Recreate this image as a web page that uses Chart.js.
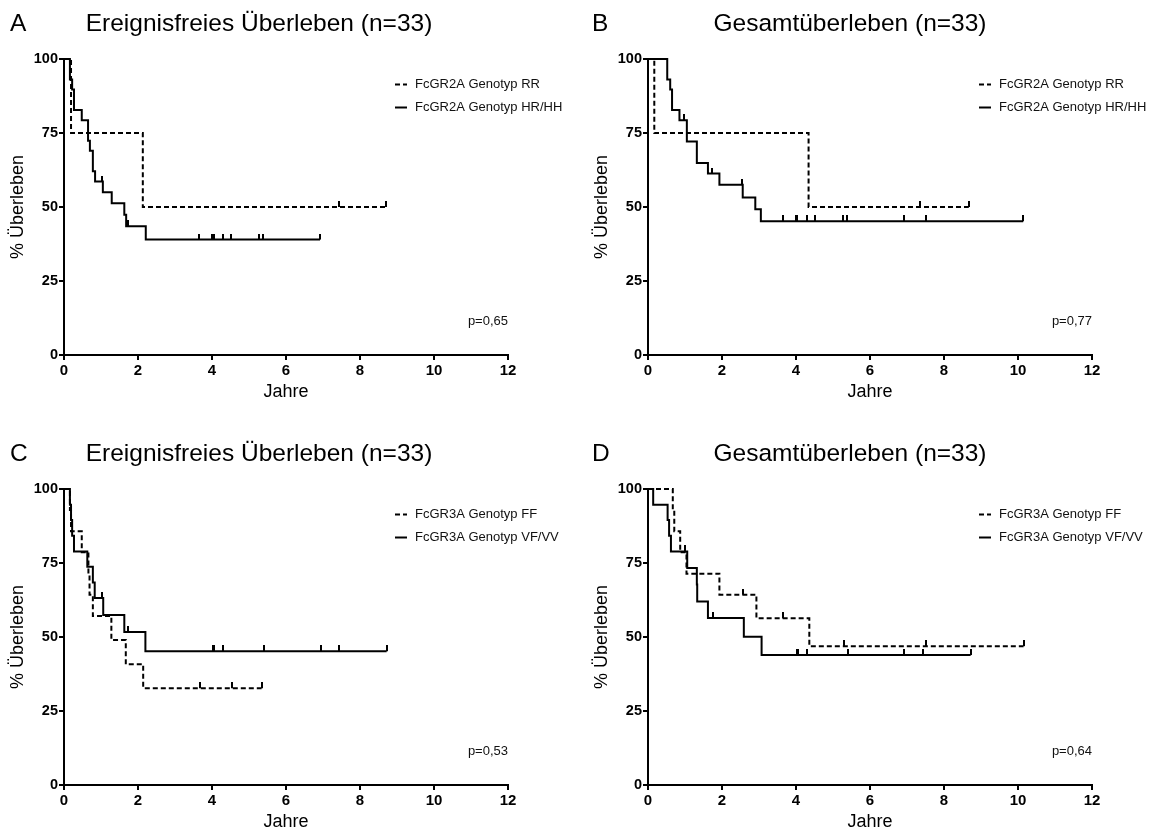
<!DOCTYPE html>
<html><head><meta charset="utf-8">
<script src="https://cdn.jsdelivr.net/npm/chart.js@4.4.1/dist/chart.umd.min.js"></script>
<style>
html,body{margin:0;padding:0;background:#fff;overflow:hidden}
#wrap{position:relative;width:1157px;height:834px;overflow:hidden;background:#fff}
canvas{position:absolute}
.lt,.tt{position:absolute;font-family:'Liberation Sans',Arial,sans-serif;font-size:24.5px;line-height:25px;color:#000;white-space:nowrap}
.tt{width:420px;text-align:center}
</style></head>
<body><div id="wrap">
<canvas id="cA" width="584" height="430" style="left:0;top:0"></canvas>
<canvas id="cB" width="573" height="430" style="left:584px;top:0"></canvas>
<canvas id="cC" width="584" height="430" style="left:0;top:430px"></canvas>
<canvas id="cD" width="573" height="430" style="left:584px;top:430px"></canvas>
<div class="lt" style="left:10px;top:10px">A</div>
<div class="tt" style="left:49px;top:10px">Ereignisfreies Überleben (n=33)</div>
<div class="lt" style="left:592px;top:10px">B</div>
<div class="tt" style="left:640px;top:10px">Gesamtüberleben (n=33)</div>
<div class="lt" style="left:10px;top:440px">C</div>
<div class="tt" style="left:49px;top:440px">Ereignisfreies Überleben (n=33)</div>
<div class="lt" style="left:592px;top:440px">D</div>
<div class="tt" style="left:640px;top:440px">Gesamtüberleben (n=33)</div>
</div>
<script>
// ---- Data (years, % survival) ----
const xTicks = [0, 2, 4, 6, 8, 10, 12];
const yTicks = [0, 25, 50, 75, 100];

// A: Ereignisfreies Überleben, FcGR2A
const A_RR_t = [0, 0.19, 2.13, 8.70];
const A_RR_s = [100, 75, 50, 50];
const A_RR_c = [7.42, 8.70];
const A_HR_t = [0, 0.16, 0.22, 0.27, 0.48, 0.65, 0.70, 0.78, 0.84, 1.05, 1.29, 1.63, 1.68, 2.21, 6.92];
const A_HR_s = [100, 93.1, 89.7, 82.8, 79.3, 72.4, 69.0, 62.1, 58.6, 55.0, 51.3, 47.4, 43.5, 39.0, 39.0];
const A_HR_c = [1.02, 1.74, 3.66, 4.01, 4.05, 4.29, 4.51, 5.28, 5.39, 6.92];

// B: Gesamtüberleben, FcGR2A
const B_RR_t = [0, 0.17, 4.34, 8.67];
const B_RR_s = [100, 75, 50, 50];
const B_RR_c = [7.36, 8.67];
const B_HR_t = [0, 0.52, 0.60, 0.65, 0.85, 1.05, 1.32, 1.62, 1.93, 2.56, 2.90, 3.05, 10.14];
const B_HR_s = [100, 93.1, 89.7, 82.8, 79.3, 72.1, 64.9, 61.3, 57.5, 53.2, 49.2, 45.2, 45.2];
const B_HR_c = [0.98, 1.72, 2.54, 3.65, 4.00, 4.04, 4.29, 4.51, 5.28, 5.37, 6.91, 7.50, 10.14];

// C: Ereignisfreies Überleben, FcGR3A
const C_FF_t = [0, 0.16, 0.19, 0.48, 0.66, 0.69, 0.78, 1.28, 1.67, 2.14, 5.34];
const C_FF_s = [100, 92.9, 85.7, 78.6, 71.4, 64.3, 57.1, 49.0, 40.8, 32.7, 32.7];
const C_FF_c = [3.67, 4.54, 5.34];
const C_VF_t = [0, 0.16, 0.19, 0.22, 0.27, 0.63, 0.78, 0.83, 1.06, 1.63, 2.20, 8.72];
const C_VF_s = [100, 94.7, 89.5, 84.2, 78.9, 73.7, 68.4, 63.2, 57.4, 51.7, 45.2, 45.2];
const C_VF_c = [1.02, 1.74, 4.02, 4.05, 4.29, 5.41, 6.94, 7.43, 8.72];

// D: Gesamtüberleben, FcGR3A
const D_FF_t = [0, 0.67, 0.71, 0.87, 1.04, 1.93, 2.93, 4.36, 10.15];
const D_FF_s = [100, 92.9, 85.7, 78.6, 71.4, 64.3, 56.3, 46.9, 46.9];
const D_FF_c = [2.57, 3.66, 5.31, 7.52, 10.15];
const D_VF_t = [0, 0.14, 0.53, 0.57, 0.62, 1.06, 1.32, 1.33, 1.62, 2.59, 3.07, 8.72];
const D_VF_s = [100, 94.7, 89.5, 84.2, 78.9, 73.3, 67.7, 62.0, 56.4, 50.1, 43.9, 43.9];
const D_VF_c = [1.00, 1.76, 4.02, 4.06, 4.29, 5.40, 6.93, 7.43, 8.72];

const labels2A = ['FcGR2A Genotyp RR', 'FcGR2A Genotyp HR/HH'];
const labels3A = ['FcGR3A Genotyp FF', 'FcGR3A Genotyp VF/VV'];
const pValues = ['p=0,65', 'p=0,77', 'p=0,53', 'p=0,64'];

// ---- Rendering ----
Chart.defaults.font.family = "'Liberation Sans', Arial, sans-serif";
Chart.defaults.color = '#000';

const tickImg = document.createElement('canvas');
tickImg.width = 2; tickImg.height = 12;
(function(){ const c = tickImg.getContext('2d'); c.fillStyle = '#000'; c.fillRect(0, 0, 2, 6); })();

function survAt(t, s, x) {
  let v = s[0];
  for (let i = 0; i < t.length; i++) { if (t[i] <= x) v = s[i]; }
  return v;
}

const kmAnnotations = {
  id: 'kmAnnotations',
  afterDatasetsDraw(chart, args, opts) {
    const ctx = chart.ctx;
    ctx.save();
    ctx.font = opts.font;
    ctx.fillStyle = '#111';
    ctx.textBaseline = 'middle';
    const mains = chart.data.datasets.filter(d => d.kmMain);
    mains.forEach((ds, i) => {
      const y = opts.legendY + i * opts.rowGap;
      ctx.beginPath();
      ctx.setLineDash(ds.borderDash || []);
      ctx.lineWidth = ds.borderWidth;
      ctx.strokeStyle = ds.borderColor;
      ctx.moveTo(opts.legendX, y);
      ctx.lineTo(opts.legendX + opts.sampleLen, y);
      ctx.stroke();
      ctx.setLineDash([]);
      ctx.textAlign = 'left';
      ctx.fillText(ds.label, opts.legendX + opts.sampleLen + opts.textGap, y);
    });
    ctx.textAlign = 'right';
    ctx.fillText(opts.pText, chart.chartArea.right, chart.chartArea.top + opts.pOffset);
    ctx.restore();
  }
};

function makeChart(id, series, pText, padRight) {
  const datasets = [];
  series.forEach(s => {
    datasets.push({
      label: s.label, kmMain: true,
      data: s.t.map((x, i) => ({ x: x, y: s.s[i] })),
      stepped: 'before', borderColor: '#000', borderWidth: 2,
      borderDash: s.dash ? [5, 3] : [], borderCapStyle: 'butt', borderJoinStyle: 'miter',
      pointRadius: 0, fill: false, clip: false, tension: 0
    });
  });
  series.forEach(s => {
    datasets.push({
      label: s.label + ' (zensiert)',
      data: s.c.map(x => ({ x: x, y: survAt(s.t, s.s, x) })),
      showLine: false, pointStyle: tickImg, pointRadius: 3,
      borderColor: '#000', backgroundColor: '#000', clip: false
    });
  });
  const gridOpt = { display: true, drawOnChartArea: false, drawTicks: true, tickLength: 5, color: '#000', lineWidth: 2 };
  const borderOpt = { display: true, color: '#000', width: 2 };
  new Chart(document.getElementById(id), {
    type: 'line',
    data: { datasets: datasets },
    options: {
      responsive: false, animation: false, events: [], devicePixelRatio: 1,
      layout: { padding: { top: 59, right: padRight, bottom: 0, left: 0 } },
      plugins: {
        legend: { display: false }, tooltip: { enabled: false },
        kmAnnotations: { font: "13px 'Liberation Sans', Arial, sans-serif", legendX: 395, legendY: 84.5, rowGap: 23, sampleLen: 12, textGap: 8, pText: pText, pOffset: 262 }
      },
      scales: {
        x: {
          type: 'linear', min: xTicks[0], max: xTicks[xTicks.length - 1],
          afterBuildTicks: sc => { sc.ticks = xTicks.map(v => ({ value: v })); },
          ticks: { font: { size: 15, weight: 'bold' }, color: '#000', padding: 2, maxRotation: 0, autoSkip: false },
          grid: gridOpt, border: borderOpt,
          title: { display: true, text: 'Jahre', font: { size: 18 }, color: '#000', padding: { top: 0, bottom: 27 } },
          afterFit: sc => { sc.height = 75; }
        },
        y: {
          type: 'linear', min: yTicks[0], max: yTicks[yTicks.length - 1],
          afterBuildTicks: sc => { sc.ticks = yTicks.map(v => ({ value: v })); },
          ticks: { font: { size: 14.5, weight: 'bold' }, color: '#000', padding: 1 },
          grid: gridOpt, border: borderOpt,
          title: { display: true, text: '% Überleben', font: { size: 18 }, color: '#000', padding: { top: 7, bottom: 0 } },
          afterFit: sc => { sc.width = 64; }
        }
      }
    },
    plugins: [kmAnnotations]
  });
}

makeChart('cA', [
  { label: labels2A[0], t: A_RR_t, s: A_RR_s, c: A_RR_c, dash: true },
  { label: labels2A[1], t: A_HR_t, s: A_HR_s, c: A_HR_c, dash: false }
], pValues[0], 76);
makeChart('cB', [
  { label: labels2A[0], t: B_RR_t, s: B_RR_s, c: B_RR_c, dash: true },
  { label: labels2A[1], t: B_HR_t, s: B_HR_s, c: B_HR_c, dash: false }
], pValues[1], 65);
makeChart('cC', [
  { label: labels3A[0], t: C_FF_t, s: C_FF_s, c: C_FF_c, dash: true },
  { label: labels3A[1], t: C_VF_t, s: C_VF_s, c: C_VF_c, dash: false }
], pValues[2], 76);
makeChart('cD', [
  { label: labels3A[0], t: D_FF_t, s: D_FF_s, c: D_FF_c, dash: true },
  { label: labels3A[1], t: D_VF_t, s: D_VF_s, c: D_VF_c, dash: false }
], pValues[3], 65);
</script>
</body></html>
